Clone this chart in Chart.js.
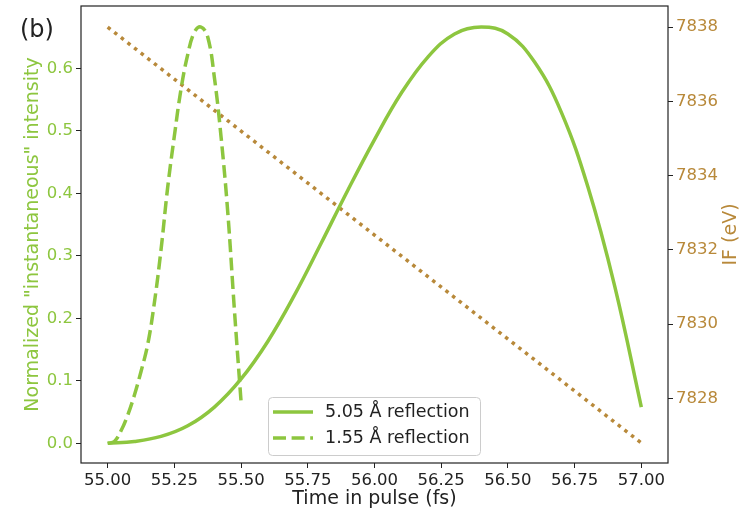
<!DOCTYPE html>
<html>
<head>
<meta charset="utf-8">
<script src="https://cdn.jsdelivr.net/npm/chart.js@4.4.0/dist/chart.umd.min.js"></script>
<style>
  html, body { margin: 0; padding: 0; background: #fff; }
  #wrap { width: 751px; height: 513px; }
</style>
</head>
<body>
<div id="wrap"><canvas id="chart" width="751" height="513"></canvas></div>
<script>
// 5.05 A reflection (solid)
let time505 = [55.0, 55.1, 55.2, 55.3, 55.4, 55.5, 55.6, 55.7, 55.8, 55.9, 56.0,
               56.1, 56.2, 56.3, 56.4, 56.5, 56.6, 56.7, 56.8, 56.9, 57.0];
let int505 = [0.000, 0.003, 0.011, 0.028, 0.058, 0.103, 0.163, 0.237, 0.320, 0.405, 0.486,
              0.560, 0.618, 0.655, 0.666, 0.655, 0.610, 0.530, 0.410, 0.252, 0.058];

// 1.55 A reflection (dashed)
let time155 = [55.0, 55.025, 55.05, 55.075, 55.1, 55.125, 55.15, 55.175, 55.2, 55.225, 55.25,
               55.275, 55.3, 55.325, 55.35, 55.375, 55.4, 55.425, 55.45, 55.475, 55.5];
let int155 = [0.000, 0.003, 0.020, 0.045, 0.077, 0.115, 0.158, 0.225, 0.310, 0.410, 0.492,
              0.567, 0.622, 0.658, 0.666, 0.650, 0.585, 0.490, 0.370, 0.213, 0.066];

// IF energy (dotted, right axis)
let timeIF = [55.0, 56.0, 57.0];
let energyIF = [7838.0, 7832.4, 7826.8];

let xTicks = [55.00, 55.25, 55.50, 55.75, 56.00, 56.25, 56.50, 56.75, 57.00];
let leftTicks = [0.0, 0.1, 0.2, 0.3, 0.4, 0.5, 0.6];
let rightTicks = [7828, 7830, 7832, 7834, 7836, 7838];
let legendLabels = ['5.05 Å reflection', '1.55 Å reflection'];

const green = '#8dc63f';
const brown = '#b8893a';
const dark = '#222222';

Chart.defaults.font.family = 'DejaVu Sans';

const pts = (xs, ys) => xs.map((x, i) => ({x: x, y: ys[i]}));

const framePlugin = {
    id: 'frame',
    afterDraw(chart) {
        const c = chart.ctx;
        const a = chart.chartArea;
        c.save();
        // legend box
        const lx = 268, ly = 397, lw = 212, lh = 58;
        c.fillStyle = 'rgba(255,255,255,0.8)';
        c.strokeStyle = '#cccccc';
        c.lineWidth = 1;
        c.beginPath();
        c.roundRect(lx + 0.5, ly + 0.5, lw, lh, 4);
        c.fill();
        c.stroke();
        const dashes = [[], [13, 5.6]];
        legendLabels.forEach((lab, i) => {
            const y = 412 + i * 26;
            c.strokeStyle = green;
            c.lineWidth = 3.5;
            c.setLineDash(dashes[i]);
            c.beginPath();
            c.moveTo(273, y);
            c.lineTo(313, y);
            c.stroke();
            c.setLineDash([]);
            c.fillStyle = dark;
            c.font = '17.5px "DejaVu Sans"';
            c.textBaseline = 'middle';
            c.textAlign = 'left';
            c.fillText(lab, 325, y);
        });
        // plot frame
        c.strokeStyle = dark;
        c.lineWidth = 1.2;
        c.strokeRect(a.left, a.top, a.right - a.left, a.bottom - a.top);
        // right axis title, reading bottom to top
        c.translate(731, (a.top + a.bottom) / 2);
        c.rotate(-Math.PI / 2);
        c.fillStyle = brown;
        c.font = '19px "DejaVu Sans"';
        c.textAlign = 'center';
        c.textBaseline = 'middle';
        c.fillText('IF (eV)', 0, 0);
        c.restore();
        // panel tag
        c.save();
        c.fillStyle = dark;
        c.font = '24px "DejaVu Sans"';
        c.textBaseline = 'alphabetic';
        c.fillText('(b)', 20, 37);
        c.restore();
    }
};

const ticksFrom = (arr) => (s) => { s.ticks = arr.map(v => ({value: v})); };

let chart = new Chart(document.getElementById('chart').getContext('2d'), {
    type: 'line',
    data: {
        datasets: [{
            label: legendLabels[0],
            data: pts(time505, int505),
            borderColor: green,
            borderWidth: 3.5,
            pointRadius: 0,
            tension: 0.4,
            yAxisID: 'y',
        }, {
            label: legendLabels[1],
            data: pts(time155, int155),
            borderColor: green,
            borderWidth: 3.5,
            borderDash: [13, 5.6],
            pointRadius: 0,
            tension: 0.4,
            yAxisID: 'y',
        }, {
            label: 'IF',
            data: pts(timeIF, energyIF),
            borderColor: brown,
            borderWidth: 3.5,
            borderDash: [3.5, 4.9],
            pointRadius: 0,
            yAxisID: 'y2',
        }]
    },
    options: {
        responsive: false,
        animation: false,
        layout: { padding: { top: 6, left: 0, right: 0, bottom: 0 } },
        plugins: {
            legend: { display: false },
            tooltip: { enabled: false },
        },
        scales: {
            x: {
                type: 'linear',
                min: 54.9,
                max: 57.1,
                bounds: 'data',
                afterBuildTicks: ticksFrom(xTicks),
                afterFit: (s) => { s.height = 50; s.paddingLeft = 0; s.paddingRight = 0; },
                grid: { drawOnChartArea: false, drawTicks: true, tickLength: 5, color: dark },
                border: { display: false },
                ticks: {
                    color: dark,
                    padding: 3,
                    maxRotation: 0,
                    autoSkip: false,
                    font: { size: 16.5 },
                    callback: (v) => v.toFixed(2),
                },
                title: {
                    display: true,
                    text: 'Time in pulse (fs)',
                    color: dark,
                    font: { size: 19 },
                    padding: { top: 3, bottom: 3 },
                },
            },
            y: {
                type: 'linear',
                position: 'left',
                min: -0.0315,
                max: 0.6997,
                bounds: 'data',
                afterBuildTicks: ticksFrom(leftTicks),
                afterFit: (s) => { s.width = 81; s.paddingTop = 0; s.paddingBottom = 0; },
                grid: { drawOnChartArea: false, drawTicks: true, tickLength: 5, color: dark },
                border: { display: false },
                ticks: {
                    color: green,
                    padding: 3,
                    autoSkip: false,
                    font: { size: 16.5 },
                    callback: (v) => v.toFixed(1),
                },
                title: {
                    display: true,
                    text: 'Normalized "instantaneous" intensity',
                    color: green,
                    font: { size: 19 },
                    padding: { top: 22, bottom: 22 },
                },
            },
            y2: {
                type: 'linear',
                position: 'right',
                min: 7826.26,
                max: 7838.57,
                bounds: 'data',
                afterBuildTicks: ticksFrom(rightTicks),
                afterFit: (s) => { s.width = 83; s.paddingTop = 0; s.paddingBottom = 0; },
                grid: { drawOnChartArea: false, drawTicks: true, tickLength: 5, color: dark },
                border: { display: false },
                ticks: {
                    color: brown,
                    padding: 3,
                    autoSkip: false,
                    font: { size: 16.5 },
                    callback: (v) => String(v),
                },
            },
        },
    },
    plugins: [framePlugin],
});
</script>
</body>
</html>
